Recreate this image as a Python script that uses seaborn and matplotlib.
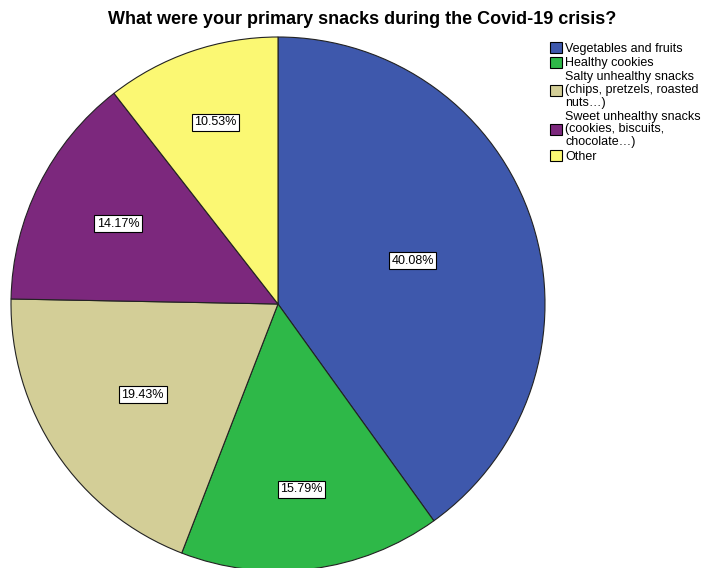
import matplotlib
matplotlib.use("Agg")
import matplotlib.pyplot as plt
import seaborn as sns
import numpy as np

sns.set_theme(style="white")
plt.rcParams['font.family'] = ['Liberation Sans', 'DejaVu Sans']

categories = ["Vegetables and fruits", "Healthy cookies",
              "Salty unhealthy snacks\n(chips, pretzels, roasted\nnuts…)",
              "Sweet unhealthy snacks\n(cookies, biscuits,\nchocolate…)",
              "Other"]
values = [40.08, 15.79, 19.43, 14.17, 10.53]
colors = ["#3e58ac", "#2eb848", "#d3ce97", "#7c287d", "#fbf873"]
label_dist = [0.53, 0.70, 0.61, 0.67, 0.72]

fig = plt.figure(figsize=(7.02, 5.68), dpi=100)
W, H = 702, 568
cx, cy, r = 278, 304, 267
ax = fig.add_axes([(cx - r) / W, (H - cy - r) / H, 2 * r / W, 2 * r / H])

wedges, texts, autotexts = ax.pie(
    values, colors=colors, startangle=90, counterclock=False, radius=1,
    autopct="%.2f%%", pctdistance=0.6,
    wedgeprops=dict(edgecolor="#222222", linewidth=0.8),
    textprops=dict(fontsize=9, color="black"))
ax.set_xlim(-1, 1)
ax.set_ylim(-1, 1)
ax.axis("off")

for w, t, d in zip(wedges, autotexts, label_dist):
    mid = np.deg2rad((w.theta1 + w.theta2) / 2)
    t.set_position((d * np.cos(mid), d * np.sin(mid)))
    t.set_bbox(dict(boxstyle="square,pad=0.2", facecolor="white",
                    edgecolor="black", linewidth=0.8))

fig.text(362 / W, 1 - 20 / H, "What were your primary snacks during the Covid-19 crisis?",
         ha="center", va="center", fontsize=13, fontweight="bold", color="black")

leg = fig.legend(wedges, categories, loc="upper left",
                 bbox_to_anchor=(541 / W, 1 - 33 / H), frameon=False,
                 fontsize=9, handlelength=1.0, handleheight=1.0,
                 handletextpad=0.25, labelspacing=0.15, borderpad=0.2)
for t in leg.get_texts():
    t.set_linespacing(1.08)
    t.set_color("black")
for p in leg.get_patches():
    p.set_edgecolor("black")
    p.set_linewidth(0.8)

fig.savefig("out.png", dpi=100)
